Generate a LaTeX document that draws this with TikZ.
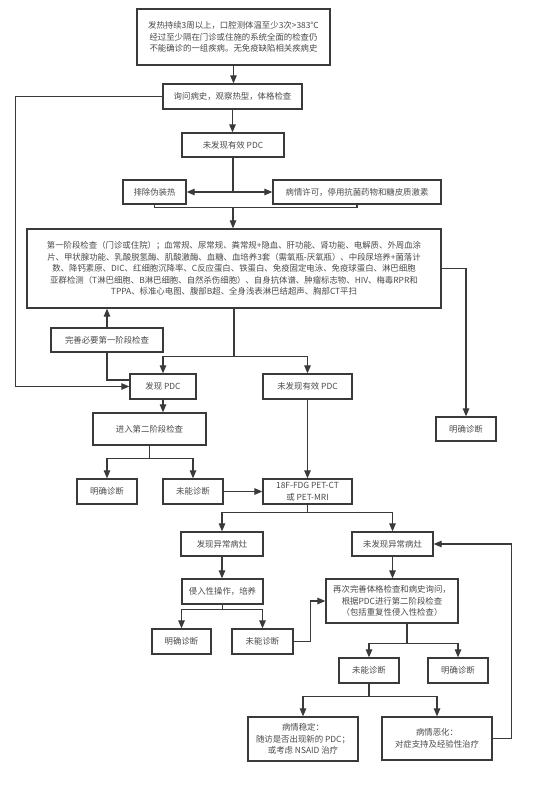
\documentclass[tikz,border=0pt]{standalone}
\usepackage{fontspec}
\setmainfont{Noto Sans CJK SC}
\usetikzlibrary{arrows.meta,calc}
\definecolor{lncol}{HTML}{3A3A3A}
\definecolor{txcol}{HTML}{4A4A4A}
\begin{document}
\begin{tikzpicture}[x=1pt,y=-1pt,
  box/.style={draw=lncol,line width=1.25pt,inner sep=0pt,align=center,text=txcol,font=\fontsize{8.4}{11.5}\selectfont},
  arr/.style={draw=lncol,line width=1.1pt,-{Triangle[length=8pt,width=6.5pt]}},
  plain/.style={draw=lncol,line width=1.1pt}]
\useasboundingbox (0,0) rectangle (554,799);
\fill[white] (0,0) rectangle (554,799);

\node[box,minimum width=193pt,minimum height=56pt] (top) at (233.5,37)
 {发热持续3周以上，口腔测体温至少3次>383℃\\经过至少隔在门诊或住施的系统全面的检查仍\\不能确诊的一组疾病。无免疫缺陷相关疾病史};
\node[box,minimum width=139pt,minimum height=25pt] (ask) at (232.5,96.5) {询问病史，观察热型，体格检查};
\node[box,minimum width=102pt,minimum height=24pt] (nopdca) at (233,145) {未发现有效 PDC};
\node[box,minimum width=63pt,minimum height=24pt] (fake) at (154.5,192) {排除伪装热};
\node[box,minimum width=168pt,minimum height=24pt] (stop) at (357,192) {病情许可，停用抗菌药物和糖皮质激素};
\node[box,minimum width=414pt,minimum height=79pt] (stagea) at (234,268.5)
 {第一阶段检查（门诊或住院）；血常规、尿常规、粪常规+隐血、肝功能、肾功能、电解质、外周血涂\\
  片、甲状腺功能、乳酸脱氢酶、肌酸激酶、血糖、血培养3套（需氧瓶-厌氧瓶）、中段尿培养+菌落计\\
  数、降钙素原、DIC、红细胞沉降率、C反应蛋白、铁蛋白、免疫固定电泳、免疫球蛋白、淋巴细胞\\
  亚群检测（T淋巴细胞、B淋巴细胞、自然杀伤细胞）、自身抗体谱、肿瘤标志物、HIV、梅毒RPR和\\
  TPPA、标准心电图、腹部B超、全身浅表淋巴结超声、胸部CT平扫};
\node[box,minimum width=112pt,minimum height=24pt] (complete) at (107,340) {完善必要第一阶段检查};
\node[box,minimum width=66pt,minimum height=25pt] (pdc) at (163,386.5) {发现 PDC};
\node[box,minimum width=89pt,minimum height=25pt] (nopdcb) at (307.5,386.5) {未发现有效 PDC};
\node[box,minimum width=60pt,minimum height=24pt] (diagr) at (466,429) {明确诊断};
\node[box,minimum width=113pt,minimum height=32pt] (stageb) at (149.5,429) {进入第二阶段检查};
\node[box,minimum width=60pt,minimum height=25pt] (diaga) at (107,491.5) {明确诊断};
\node[box,minimum width=60pt,minimum height=25pt] (faila) at (193,491.5) {未能诊断};
\node[box,minimum width=89pt,minimum height=25pt] (pet) at (307.5,491.5) {18F-FDG PET-CT\\或 PET-MRI};
\node[box,minimum width=82pt,minimum height=24pt] (abn) at (222,544) {发现异常病灶};
\node[box,minimum width=81pt,minimum height=24pt] (noabn) at (392.5,544) {未发现异常病灶};
\node[box,minimum width=81pt,minimum height=25pt] (inv) at (222.5,591.5) {侵入性操作，培养};
\node[box,minimum width=59pt,minimum height=25pt] (diagb) at (181.5,641.5) {明确诊断};
\node[box,minimum width=61pt,minimum height=25pt] (failb) at (262.5,641.5) {未能诊断};
\node[box,minimum width=132pt,minimum height=44pt] (again) at (392,601)
 {再次完善体格检查和病史询问，\\根据PDC进行第二阶段检查\\（包括重复性侵入性检查）};
\node[box,minimum width=60pt,minimum height=25pt] (failc) at (369,670.5) {未能诊断};
\node[box,minimum width=60pt,minimum height=25pt] (diagc) at (458,670.5) {明确诊断};
\node[box,minimum width=110pt,minimum height=44pt] (stable) at (303,739)
 {病情稳定：\\随访是否出现新的 PDC；\\或考虑 NSAID 治疗};
\node[box,minimum width=110pt,minimum height=43pt] (worse) at (437,738.5)
 {病情恶化：\\对症支持及经验性治疗};

% connectors
\draw[arr] (top.south) -- (top.south |- ask.north);
\draw[arr] (ask.west) -- ++(-147,0) |- (pdc.west);
\draw[arr] (ask.south) -- (ask.south |- nopdca.north);
\coordinate (ja) at (nopdca.south |- fake.east);
\draw[plain] (nopdca.south) -- (ja);
\draw[arr] (ja) -- (fake.east);
\draw[arr] (ja) -- (stop.west);
\draw[plain] (fake.south) -- ++(0,3) -| (stop.south);
\coordinate (jb) at ($(nopdca.south |- fake.south)+(0,3)$);
\draw[arr] (jb) -- (jb |- stagea.north);
\draw[arr] (stagea.east) -| (diagr.north);
\draw[arr] (complete.north) -- (complete.north |- stagea.south);
\draw[plain] (complete.south) |- ([yshift=6.5pt]pdc.west);
\draw[plain] (stagea.south) -- ++(0,47.5) coordinate (jc);
\draw[arr] (jc) -| (pdc.north);
\draw[arr] (jc) -| (nopdcb.north);
\draw[arr] (pdc.south) -- (pdc.south |- stageb.north);
\draw[plain] (stageb.south) -- ++(0,13) coordinate (jd);
\draw[arr] (jd) -| (diaga.north);
\draw[arr] (jd) -| (faila.north);
\draw[arr] (faila.east) -- (pet.west);
\draw[arr] (nopdcb.south) -- (pet.north);
\draw[plain] (pet.south) -- ++(0,8) coordinate (je);
\draw[arr] (je) -| (abn.north);
\draw[arr] (je) -| (noabn.north);
\draw[arr] (abn.south) -- (abn.south |- inv.north);
\draw[plain] (inv.south) -- ++(0,5) coordinate (jf);
\draw[arr] (jf) -| (diagb.north);
\draw[arr] (jf) -| (failb.north);
\draw[arr] (failb.east) -- ++(17,0) |- (again.west);
\draw[arr] (noabn.south) -- (noabn.south |- again.north);
\draw[plain] ([xshift=15pt]again.south) -- ++(0,20) coordinate (jg);
\draw[arr] (jg) -| (diagc.north);
\draw[arr] (jg) -| (failc.north);
\draw[plain] (failc.south) -- ++(0,13) coordinate (jh);
\draw[arr] (jh) -| (stable.north);
\draw[arr] (jh) -| (worse.north);
\draw[arr] (worse.east) -- ++(19,0) |- (noabn.east);
\end{tikzpicture}
\end{document}
